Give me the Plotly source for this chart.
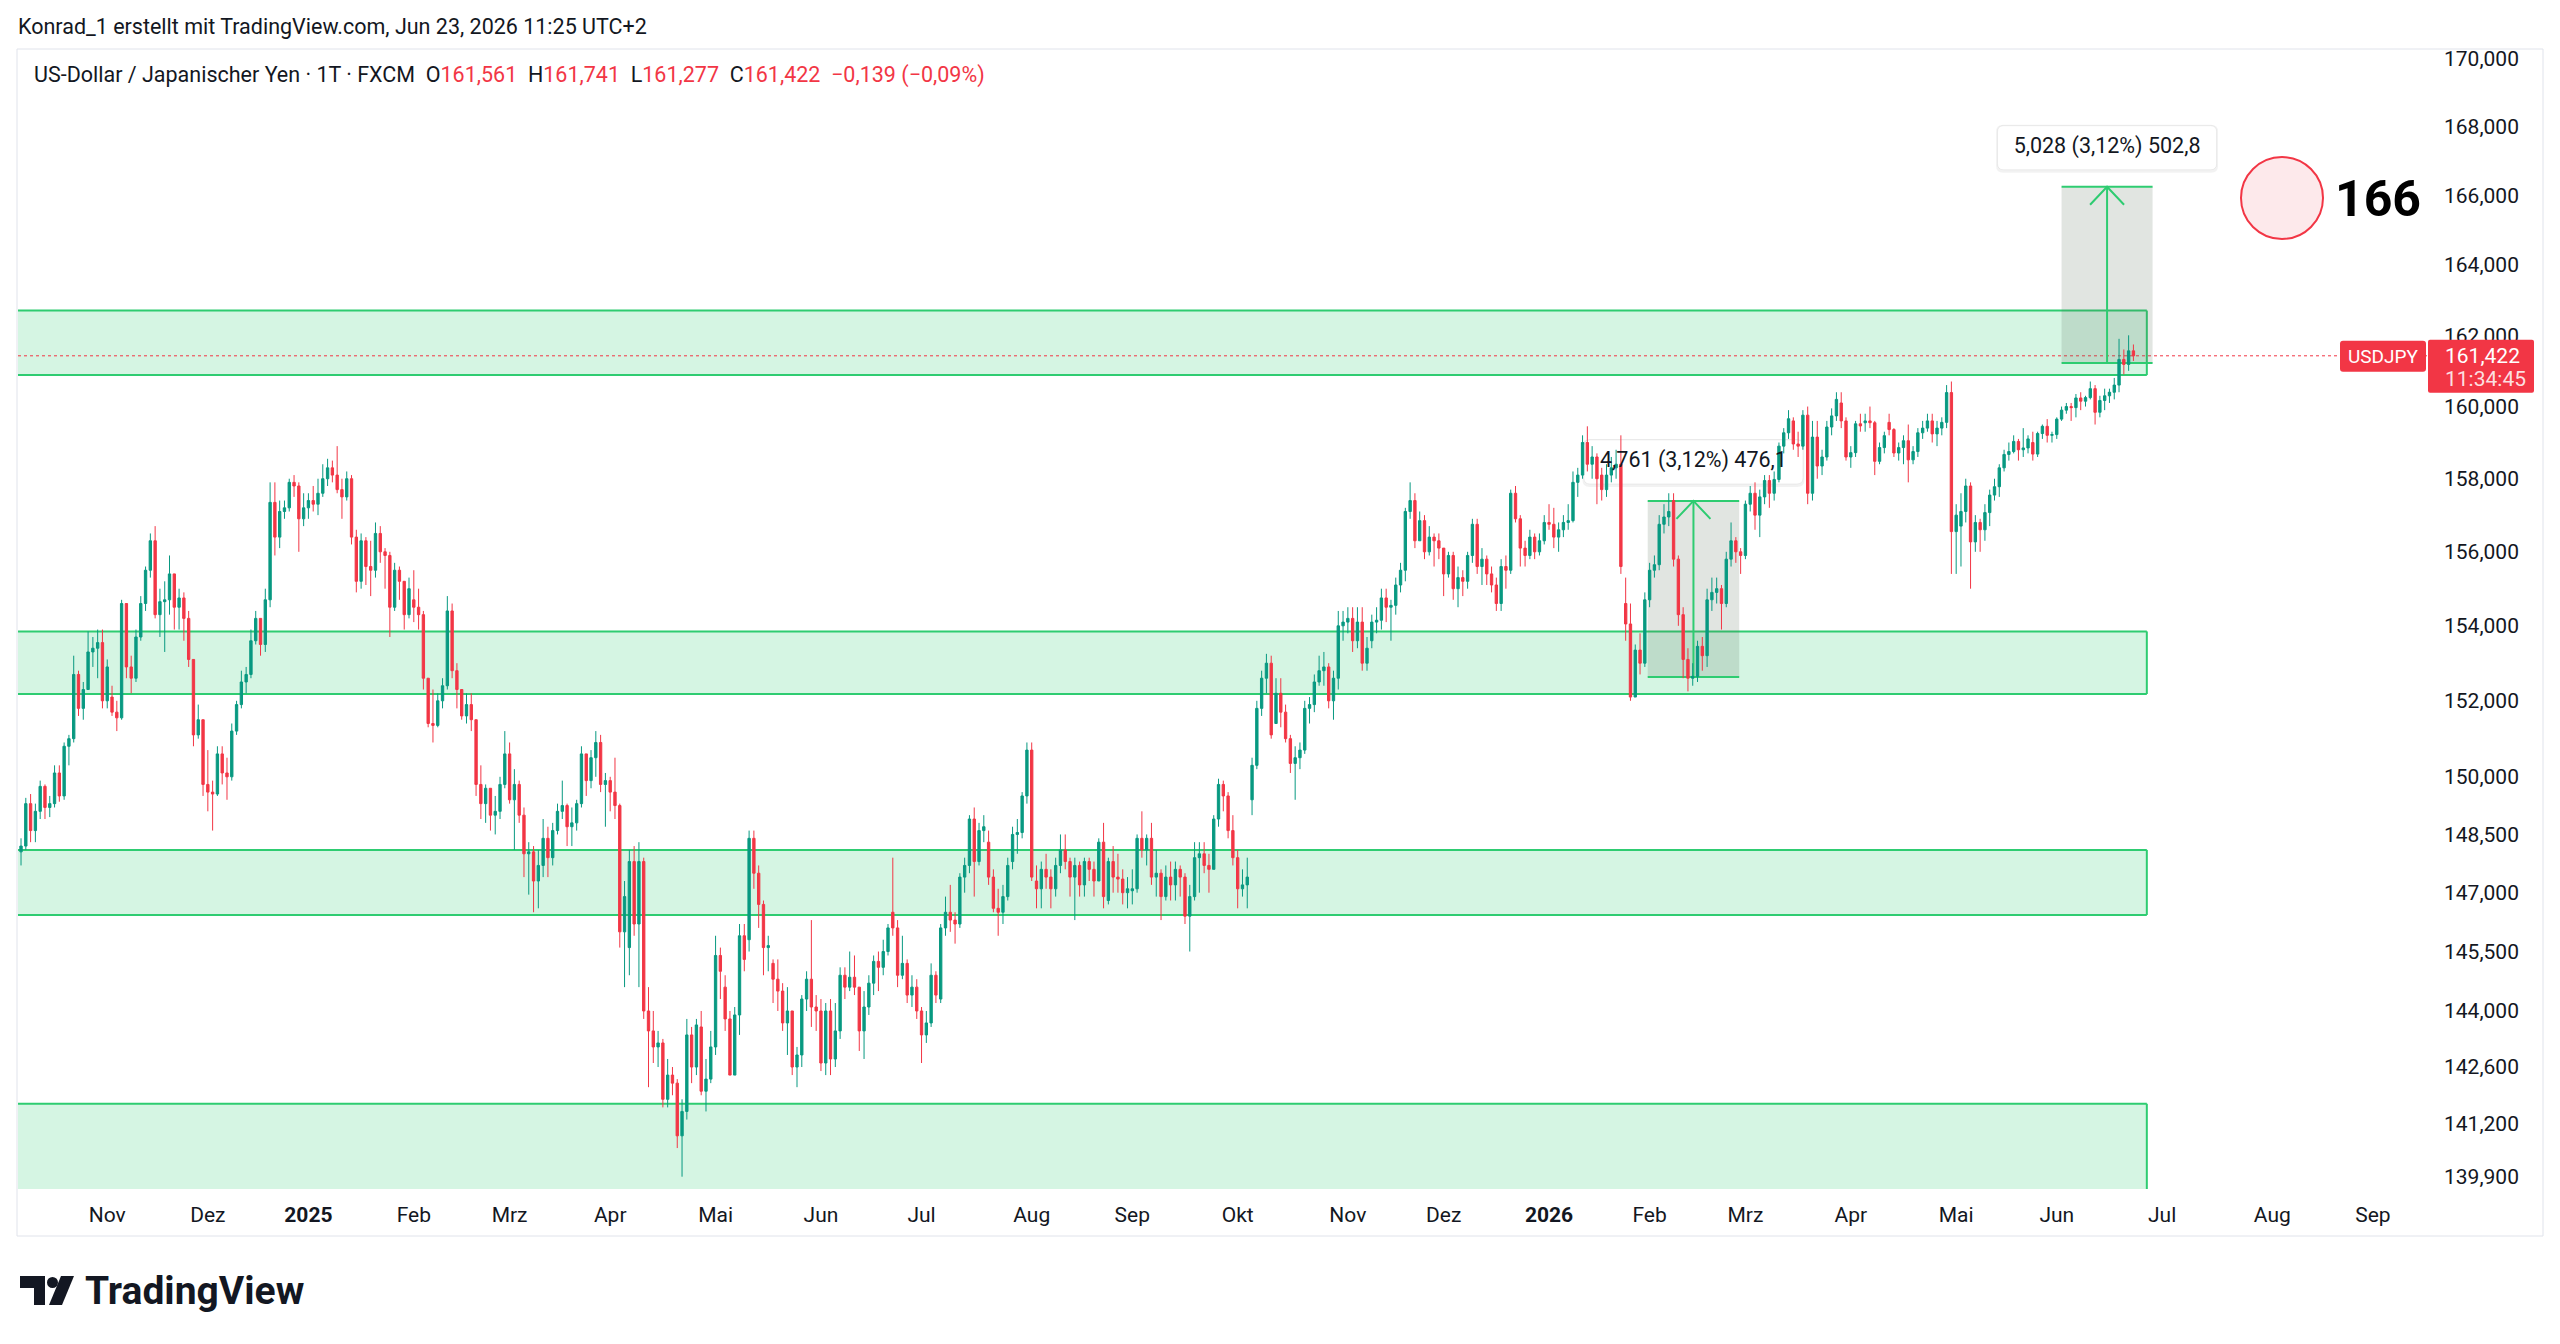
import math
import pandas as pd
import plotly.graph_objects as go

# ------------------------------------------------------------------ data
# USD/JPY daily candles (FXCM), 2024-10-08 .. 2026-06-23, one row per month
opens = [
    148.05, 148.2, 149.3, 148.6, 149.1, 149.75, 149.2, 149.3, 150.1, 149.5, 150.8, 151.0, 152.7, 151.8, 152.3, 153.3, 153.4, 153.55,
    152.0, 152.1, 151.7, 151.55, 154.6, 152.9, 152.6, 153.7, 154.6, 155.5, 156.3, 154.3, 154.65, 154.7, 155.4, 154.5, 154.75, 154.2, 153.1, 151.1, 151.5,
    149.8, 149.6, 149.55, 150.6, 150.1, 150.0, 151.2, 151.9, 152.5, 152.7, 153.6, 154.2, 153.5, 154.7, 157.35, 156.4, 157.1, 157.2, 157.9, 157.8, 156.9,
    157.2, 157.4, 157.3, 157.6, 158.0, 158.3, 158.1, 157.7, 157.5, 158.0, 156.4, 155.2, 156.3, 155.6, 155.5, 156.5, 156.0, 155.9, 154.5, 155.5, 155.2, 154.3,
    154.7, 154.5, 154.3, 152.6, 151.4, 151.35, 152.0, 152.4, 154.4, 152.8, 152.3, 151.6, 151.9, 151.5, 149.8, 149.3, 149.7, 149.0, 149.1, 149.8,
    150.6, 149.4, 149.8, 149.0, 148.0, 148.05, 147.3, 147.7, 148.4, 147.9, 148.6, 149.1, 149.25, 148.7, 148.8, 149.3, 150.6, 149.9, 150.5, 150.9, 149.8,
    149.9, 149.6, 149.25, 146.0, 145.6, 147.8, 146.2, 147.8, 144.0, 143.5, 143.1, 143.2, 141.8, 142.4, 142.2, 140.9, 141.5, 143.4, 142.6, 143.6, 142.0, 142.3,
    143.1, 145.4, 144.6, 143.8, 142.4, 143.9, 145.9, 145.8, 148.4, 147.5, 146.7, 145.6, 145.2, 144.8, 144.5, 143.7, 144.0, 142.6, 142.9, 144.3, 144.8, 144.1,
    144.0, 142.7, 144.0, 142.8, 143.5, 144.9, 144.6, 144.85, 144.6, 143.5, 144.1, 144.7, 145.25, 145.1, 145.5, 146.5, 146.1, 144.9, 145.2, 144.4, 144.6,
    144.0, 143.4, 143.7, 144.9, 144.3, 146.1, 146.5, 146.3, 146.2, 147.4, 147.7, 148.9, 147.8, 148.6, 148.3, 147.4, 146.6, 146.5, 146.9, 147.8, 148.5, 148.55, 149.5,
    150.7, 147.3, 147.1, 147.6, 147.4, 147.1, 147.7, 148.1, 147.8, 147.4, 147.7, 147.2, 147.8, 147.6, 147.3, 148.3, 146.8, 147.8, 147.4, 147.35, 147.0,
    147.05, 147.1, 148.4, 148.1, 148.4, 147.4, 147.5, 146.9, 147.4, 147.2, 147.6, 147.4, 146.4, 146.9, 147.9, 148.0, 147.7, 147.6, 148.9, 149.8, 149.5, 148.6,
    147.9, 147.1, 147.2, 149.4, 150.3, 151.8, 152.6, 153.0, 151.4, 152.2, 151.7, 151.0, 150.35, 150.5, 150.7, 151.8, 151.9, 152.5, 152.8, 152.9, 152.0, 152.6, 154.0,
    154.1, 154.2, 153.6, 154.1, 153.0, 153.6, 154.1, 154.15, 154.75, 154.5, 154.55, 155.1, 155.5, 157.1, 157.4, 156.3, 156.85, 156.0, 156.4, 156.3,
    156.1, 155.4, 155.9, 155.0, 155.3, 155.2, 155.9, 156.75, 155.6, 155.8, 155.4, 155.1, 154.6, 155.6, 155.5, 157.6, 156.9, 156.1, 155.9, 156.4, 156.0, 156.3,
    156.8, 156.75, 156.4, 156.6, 156.8, 156.85, 157.9, 158.1, 159.0, 158.4, 158.6, 158.1, 157.7, 158.1, 158.3, 158.4, 154.6, 154.05, 152.1, 153.35, 153.0,
    154.7, 155.5, 155.65, 156.75, 156.95, 157.4, 155.8, 154.3, 153.1, 152.6, 152.65, 153.45, 153.2, 154.7, 154.9, 155.0, 154.6, 155.8, 156.3, 156.0,
    155.9, 157.3, 157.6, 157.0, 157.5, 157.95, 157.6, 157.98, 158.9, 159.27, 159.6, 158.96, 158.9, 159.76, 157.6, 159.15, 158.35, 158.6, 159.43, 159.74, 160.1, 159.6,
    158.6, 158.72, 159.52, 159.55, 159.6, 159.55, 158.48, 158.86, 159.56, 159.36, 158.71, 158.86, 159.05, 158.52, 158.75, 159.27, 159.4, 159.6, 159.24, 159.4, 159.56, 160.39,
    156.55, 156.7, 157.1, 157.8, 156.27, 156.8, 156.6, 157.07, 157.55, 157.78, 158.3, 158.67, 158.75, 159.03, 158.8, 158.85, 159.0, 158.68, 159.25, 159.45, 159.2,
    159.22, 159.65, 159.9, 160.0, 159.97, 160.24, 160.15, 160.25, 160.5, 159.84, 160.17, 160.3, 160.4, 160.6, 161.32, 161.18, 161.561,
]
highs = [
    148.4, 149.45, 149.55, 149.3, 149.9, 149.8, 149.5, 150.3, 150.3, 150.9, 151.1, 153.2, 152.8, 152.5, 153.85, 153.7, 153.9, 153.9,
    153.1, 152.4, 152.0, 154.7, 154.6, 153.2, 153.9, 154.8, 155.6, 156.5, 156.7, 155.0, 155.2, 155.9, 155.3, 155.0, 154.9, 154.4, 153.1, 151.9, 151.5,
    150.7, 149.9, 150.8, 150.8, 150.5, 151.4, 152.0, 152.8, 152.9, 153.9, 154.4, 154.2, 155.0, 157.9, 157.9, 157.4, 157.4, 158.0, 158.1, 157.9, 157.6,
    157.6, 157.8, 158.0, 158.4, 158.55, 158.5, 158.9, 158.0, 158.2, 158.1, 156.6, 156.5, 156.4, 156.3, 156.8, 156.7, 156.1, 156.0, 155.7, 155.6, 155.2, 155.3,
    155.5, 155.0, 154.4, 152.6, 152.3, 152.2, 152.6, 154.8, 154.6, 153.0, 152.3, 152.2, 152.2, 151.5, 150.3, 149.8, 149.7, 149.5, 150.0, 151.2,
    150.9, 150.2, 149.9, 149.2, 148.3, 148.2, 148.1, 148.9, 148.7, 148.8, 149.3, 149.9, 149.3, 149.2, 149.4, 150.8, 150.6, 150.7, 151.2, 151.1, 150.1,
    150.0, 150.5, 149.3, 147.3, 148.1, 148.2, 148.3, 147.9, 144.6, 144.0, 143.5, 143.3, 142.8, 142.6, 142.3, 141.8, 143.8, 143.6, 143.8, 144.0, 142.8, 143.5,
    145.9, 145.6, 144.9, 144.0, 144.1, 146.2, 146.2, 148.6, 148.6, 147.7, 146.8, 145.9, 145.3, 145.3, 144.7, 144.6, 144.0, 143.1, 144.4, 145.0, 146.3, 144.4,
    144.3, 144.2, 144.3, 144.2, 145.1, 145.1, 145.5, 145.4, 144.6, 144.5, 144.9, 145.4, 145.5, 145.8, 146.2, 147.9, 146.3, 145.9, 145.3, 144.9, 144.8,
    144.1, 144.0, 145.2, 145.0, 146.2, 146.9, 147.2, 146.5, 147.5, 147.9, 149.0, 149.2, 148.8, 149.0, 148.6, 147.6, 147.1, 147.2, 147.9, 148.7, 148.9, 149.6, 150.9,
    150.9, 147.7, 147.8, 148.0, 147.6, 147.9, 148.5, 148.5, 147.9, 147.9, 147.8, 147.9, 147.9, 147.8, 148.4, 148.8, 147.9, 148.2, 148.0, 147.6, 147.4,
    147.6, 148.5, 149.1, 148.5, 148.8, 148.1, 147.6, 147.7, 147.8, 147.8, 147.7, 147.5, 147.2, 148.3, 148.3, 148.3, 148.0, 149.0, 149.95, 149.9, 149.6, 149.0,
    148.1, 147.6, 147.9, 150.5, 152.0, 152.8, 153.25, 153.2, 152.6, 152.6, 151.9, 151.1, 150.8, 150.9, 152.0, 152.1, 152.7, 153.2, 153.3, 153.0, 152.8, 154.4, 154.4,
    154.5, 154.5, 154.5, 154.5, 153.7, 154.3, 154.5, 155.0, 155.0, 154.7, 155.3, 155.7, 157.2, 157.9, 157.6, 157.1, 157.0, 156.7, 156.5, 156.5,
    156.1, 156.0, 156.0, 155.6, 155.5, 156.0, 156.9, 156.9, 156.1, 155.9, 155.6, 155.3, 155.8, 155.9, 157.7, 157.8, 157.0, 156.3, 156.6, 156.5, 156.5, 157.0,
    157.3, 157.2, 156.8, 157.0, 157.3, 158.2, 158.3, 159.2, 159.45, 158.9, 158.7, 158.3, 158.4, 158.6, 158.8, 159.2, 155.3, 154.6, 153.5, 153.8, 154.9,
    155.7, 155.9, 157.0, 157.3, 157.6, 157.6, 155.9, 154.5, 153.4, 153.0, 153.6, 153.7, 155.0, 155.3, 155.3, 155.1, 156.0, 156.8, 156.4, 156.1,
    157.4, 157.8, 157.9, 157.7, 158.1, 158.1, 158.2, 159.0, 159.4, 159.9, 159.7, 159.3, 159.9, 160.0, 159.6, 159.6, 158.8, 159.6, 159.95, 160.4, 160.4, 159.7,
    158.9, 159.6, 159.8, 159.8, 160.0, 159.6, 159.0, 159.3, 159.8, 159.4, 159.0, 159.2, 159.5, 158.9, 159.4, 159.6, 159.8, 159.8, 159.6, 159.7, 160.6, 160.7,
    157.3, 157.6, 158.0, 157.9, 157.0, 156.9, 157.3, 157.7, 158.0, 158.4, 158.8, 159.0, 159.2, 159.1, 159.4, 159.2, 159.3, 159.3, 159.5, 159.65, 159.3,
    159.7, 160.0, 160.1, 160.1, 160.35, 160.4, 160.3, 160.7, 160.6, 160.3, 160.5, 160.5, 160.8, 161.9, 161.6, 162.0, 161.741,
]
lows = [
    147.7, 148.1, 148.3, 148.3, 148.9, 148.9, 148.95, 149.2, 149.35, 149.4, 150.3, 150.9, 151.6, 151.5, 152.3, 152.9, 152.6, 151.8,
    151.8, 151.6, 151.2, 151.5, 152.6, 152.2, 152.5, 153.6, 154.4, 155.3, 154.2, 153.7, 153.3, 154.3, 153.9, 153.9, 153.6, 152.9, 150.8, 151.0, 149.5,
    149.1, 148.6, 149.5, 149.8, 149.4, 149.9, 151.1, 151.8, 152.2, 152.6, 153.5, 153.2, 153.3, 154.5, 155.9, 156.1, 156.9, 157.1, 157.5, 156.0, 156.7,
    156.9, 157.1, 157.0, 157.5, 157.8, 157.9, 157.6, 156.9, 157.4, 156.2, 154.9, 155.0, 155.1, 154.8, 155.3, 155.7, 155.0, 153.7, 154.4, 154.7, 153.9, 154.2,
    154.1, 153.9, 152.3, 151.3, 150.9, 151.3, 151.8, 152.3, 152.6, 151.8, 151.5, 151.4, 151.2, 149.5, 148.9, 148.8, 148.6, 148.5, 148.9, 149.7,
    149.3, 148.1, 148.8, 147.4, 146.95, 146.5, 146.6, 147.4, 147.4, 147.7, 148.5, 148.9, 148.2, 148.2, 148.6, 149.2, 149.5, 149.7, 150.0, 149.6, 148.7,
    149.1, 148.9, 145.6, 144.6, 144.9, 145.9, 144.6, 143.8, 142.1, 142.7, 142.6, 141.6, 141.6, 141.9, 140.6, 139.9, 141.3, 142.2, 142.4, 141.9, 141.5, 142.2,
    142.9, 144.3, 143.5, 142.4, 142.4, 143.4, 145.0, 145.5, 147.1, 146.1, 144.9, 145.0, 144.2, 144.0, 143.5, 142.9, 142.4, 142.1, 142.6, 144.0, 143.6, 143.5,
    142.5, 142.4, 142.4, 142.6, 143.3, 144.3, 144.5, 144.4, 143.0, 142.8, 143.9, 144.4, 144.5, 144.9, 145.4, 145.9, 144.6, 144.8, 144.2, 144.1, 143.8,
    142.7, 143.2, 143.6, 144.2, 144.2, 145.9, 146.0, 145.7, 146.1, 147.0, 147.5, 146.9, 147.7, 148.3, 147.2, 146.5, 145.9, 146.2, 146.8, 147.6, 148.0, 148.4, 149.3,
    147.3, 146.6, 146.6, 147.1, 146.6, 146.9, 147.5, 147.6, 146.9, 146.3, 146.9, 146.9, 147.3, 146.9, 147.3, 146.6, 146.7, 147.0, 147.0, 146.7, 146.6,
    146.7, 147.0, 147.9, 147.7, 147.2, 146.9, 146.3, 146.8, 146.8, 146.8, 146.9, 146.2, 145.5, 146.8, 147.0, 147.5, 147.0, 147.6, 148.7, 149.1, 148.4, 147.7,
    146.6, 146.9, 146.6, 149.0, 150.2, 151.6, 152.2, 151.0, 151.4, 151.3, 150.9, 150.1, 149.4, 150.2, 150.6, 151.4, 151.7, 152.4, 152.4, 151.8, 151.5, 152.3, 153.6,
    153.8, 153.3, 153.4, 152.8, 152.8, 153.4, 153.8, 153.9, 154.1, 153.6, 154.3, 154.9, 155.2, 156.9, 156.1, 156.3, 155.8, 155.9, 155.6, 155.8,
    154.8, 155.3, 154.7, 154.5, 154.8, 155.0, 155.7, 155.4, 155.1, 155.1, 154.9, 154.4, 154.4, 155.0, 155.4, 156.8, 155.6, 155.6, 155.8, 155.8, 155.9, 156.2,
    156.6, 156.1, 156.0, 156.4, 156.6, 156.8, 157.5, 158.0, 158.2, 158.0, 157.3, 157.4, 157.5, 157.9, 158.0, 155.4, 153.6, 152.0, 152.1, 152.7, 152.9,
    154.5, 155.3, 155.5, 156.5, 156.7, 155.6, 154.0, 152.6, 152.25, 152.4, 152.5, 152.8, 152.9, 154.4, 154.6, 153.9, 154.5, 155.6, 155.7, 155.4,
    155.8, 157.1, 156.6, 156.4, 157.3, 157.2, 157.4, 157.9, 158.7, 159.1, 158.8, 158.6, 158.8, 157.3, 157.4, 158.0, 158.1, 158.5, 159.2, 159.6, 159.4, 158.5,
    158.3, 158.6, 159.3, 159.3, 159.4, 158.1, 158.4, 158.7, 159.2, 158.6, 158.5, 158.4, 157.9, 158.4, 158.6, 159.1, 159.3, 159.0, 158.9, 159.2, 159.4, 155.4,
    155.4, 155.6, 156.8, 155.0, 156.0, 156.0, 156.3, 156.7, 157.4, 157.5, 158.2, 158.5, 158.7, 158.5, 158.6, 158.7, 158.5, 158.6, 159.1, 159.0, 159.0,
    159.1, 159.6, 159.8, 159.6, 159.7, 159.9, 160.0, 160.2, 159.5, 159.7, 159.9, 160.1, 160.2, 160.4, 160.9, 161.0, 161.277,
]
closes = [
    148.2, 149.3, 148.6, 149.1, 149.75, 149.2, 149.3, 150.1, 149.5, 150.8, 151.0, 152.7, 151.8, 152.3, 153.3, 153.4, 153.55, 152.0,
    152.9, 151.7, 151.55, 154.6, 152.9, 152.6, 153.7, 154.6, 155.5, 156.3, 154.3, 154.65, 154.7, 155.4, 154.5, 154.75, 154.2, 153.1, 151.1, 151.5, 149.8,
    149.6, 149.55, 150.6, 150.1, 150.0, 151.2, 151.9, 152.5, 152.7, 153.6, 154.2, 153.5, 154.7, 157.35, 156.4, 157.1, 157.2, 157.9, 157.8, 156.9, 157.2,
    157.4, 157.3, 157.6, 158.0, 158.3, 158.1, 157.7, 157.5, 158.0, 156.4, 155.2, 156.3, 155.6, 155.5, 156.5, 156.0, 155.9, 154.5, 155.5, 155.2, 154.3, 155.0,
    154.5, 154.3, 152.6, 151.4, 151.35, 152.0, 152.4, 154.4, 152.8, 152.3, 151.6, 151.9, 151.5, 149.8, 149.3, 149.7, 149.0, 149.1, 149.8, 150.6,
    149.4, 149.8, 149.0, 148.0, 148.05, 147.3, 147.7, 148.4, 147.9, 148.6, 149.1, 149.25, 148.7, 148.8, 149.3, 150.6, 149.9, 150.5, 150.9, 149.8, 149.9,
    149.6, 149.25, 146.0, 146.9, 147.8, 146.2, 147.8, 144.0, 143.5, 143.1, 143.2, 141.8, 142.4, 142.2, 140.9, 141.5, 143.4, 142.6, 143.65, 142.0, 142.3, 143.1,
    145.4, 145.0, 143.8, 142.4, 143.9, 145.9, 145.3, 148.4, 147.5, 146.7, 145.6, 145.65, 144.8, 144.5, 143.7, 144.0, 142.6, 142.9, 144.3, 144.8, 144.1, 144.0,
    142.7, 144.0, 142.8, 143.5, 144.9, 144.6, 144.85, 144.6, 143.5, 144.1, 144.7, 145.25, 145.1, 145.5, 146.1, 146.1, 144.9, 145.2, 144.4, 144.6, 144.0,
    143.4, 143.7, 144.9, 144.4, 146.1, 146.5, 146.3, 146.2, 147.4, 147.7, 148.9, 147.8, 148.6, 148.7, 147.4, 146.6, 146.5, 146.9, 147.7, 148.5, 148.55, 149.5, 150.7,
    147.4, 147.1, 147.6, 147.4, 147.1, 147.7, 148.1, 147.8, 147.4, 147.7, 147.2, 147.8, 147.6, 147.3, 148.3, 146.9, 147.8, 147.4, 147.35, 147.0, 147.1,
    147.1, 148.4, 148.1, 148.4, 147.4, 147.5, 146.9, 147.4, 147.2, 147.6, 147.4, 146.4, 146.9, 147.9, 148.0, 147.7, 147.6, 148.9, 149.8, 149.5, 148.6, 147.9,
    147.1, 147.2, 147.4, 150.3, 151.8, 152.6, 153.0, 151.1, 152.2, 151.7, 151.0, 150.35, 150.5, 150.7, 151.8, 151.9, 152.5, 152.8, 152.9, 152.0, 152.6, 154.0, 154.1,
    154.2, 153.6, 154.1, 153.0, 153.4, 154.1, 154.15, 154.75, 154.5, 154.55, 155.1, 155.5, 157.1, 157.4, 156.3, 156.85, 156.0, 156.4, 156.3, 156.1,
    155.4, 155.9, 155.0, 155.3, 155.2, 155.9, 156.75, 155.6, 155.8, 155.4, 155.1, 154.6, 155.6, 155.5, 157.6, 156.9, 156.1, 155.9, 156.4, 156.0, 156.3, 156.8,
    156.75, 156.4, 156.6, 156.8, 156.85, 157.9, 158.1, 159.0, 158.4, 158.6, 158.0, 157.7, 158.1, 158.3, 158.4, 155.6, 154.05, 152.1, 153.35, 153.0, 154.7,
    155.5, 155.65, 156.75, 156.95, 157.1, 155.8, 154.3, 153.1, 152.6, 152.65, 153.45, 153.2, 154.7, 154.9, 155.0, 154.6, 155.8, 156.3, 156.0, 155.9,
    157.3, 157.6, 157.0, 157.5, 157.95, 157.6, 157.98, 158.9, 159.27, 159.66, 158.96, 158.9, 159.76, 157.6, 159.15, 158.35, 158.6, 159.43, 159.74, 160.2, 159.6, 158.6,
    158.72, 159.52, 159.46, 159.6, 159.55, 158.48, 158.86, 159.19, 159.36, 158.71, 158.86, 159.05, 158.52, 158.75, 159.27, 159.4, 159.6, 159.24, 159.4, 159.56, 160.39, 156.55,
    157.0, 157.1, 157.8, 156.27, 156.8, 156.6, 157.07, 157.55, 157.78, 158.3, 158.67, 158.75, 159.03, 158.8, 158.85, 159.1, 158.68, 159.25, 159.45, 159.2, 159.22,
    159.65, 159.9, 160.0, 159.97, 160.24, 160.15, 160.25, 160.5, 159.84, 160.17, 160.3, 160.4, 160.6, 161.32, 161.18, 161.561, 161.422,
]

first_date = "2024-10-08"
axis_end_date = "2026-09-30"
holidays = ["2024-12-25", "2025-01-01", "2025-12-25", "2026-01-01"]
month_names = ["Jan", "Feb", "Mrz", "Apr", "Mai", "Jun", "Jul", "Aug", "Sep", "Okt", "Nov", "Dez"]

price_ticks = [139.9, 141.2, 142.6, 144.0, 145.5, 147.0, 148.5, 150.0, 152.0, 154.0,
               156.0, 158.0, 160.0, 162.0, 164.0, 166.0, 168.0, 170.0]
price_tick_text = ["139,900", "141,200", "142,600", "144,000", "145,500", "147,000", "148,500",
                   "150,000", "152,000", "154,000", "156,000", "158,000", "160,000", "162,000",
                   "164,000", "166,000", "168,000", "170,000"]

# support / resistance zones (low, high) and the bar where they end
zone_lows = [160.88, 152.18, 146.43, 137.0]
zone_highs = [162.70, 153.85, 148.10, 141.69]
zone_end_bar = 443.8

# price-range measurements
measure_bar0 = [339.6, 426.0]
measure_bar1 = [358.7, 445.0]
measure_low = [152.63, 161.222]
measure_high = [157.39, 166.25]
measure_text = ["4,761 (3,12%) 476,1", "5,028 (3,12%) 502,8"]

target_text = "166"
symbol = "USDJPY"
countdown = "11:34:45"
credit = "Konrad_1 erstellt mit TradingView.com, Jun 23, 2026 11:25 UTC+2"
title = "US-Dollar / Japanischer Yen · 1T · FXCM"

# ------------------------------------------------------------------ geometry
W, H = 2560, 1344
PL, PR, PT, PB = 18, 2428, 49, 1189
X0, X1 = -0.63, 502.5
Y0, Y1 = 139.6, 170.29
LY0, LY1 = math.log10(Y0), math.log10(Y1)

UP = "#089981"
DN = "#F23645"
GREEN = "#2ECC71"
TXT = "#131722"
FONT = "Roboto"
FS = 21.5   # general UI text size


def fx(i):
    return (i - X0) / (X1 - X0)


def fy(p):
    return (math.log10(p) - LY0) / (LY1 - LY0)


def gx(px):
    return (px - PL) / (PR - PL)


def gy(py):
    return (PB - py) / (PB - PT)


def bar_px(i):
    return PL + fx(i) * (PR - PL)


def price_py(p):
    return PB - fy(p) * (PB - PT)


def py_price(py):
    return 10 ** (LY0 + gy(py) * (LY1 - LY0))


def rrect(x0, y0, x1, y1, r):
    X, Y = gx, gy
    return (f"M {X(x0 + r)},{Y(y0)} L {X(x1 - r)},{Y(y0)} Q {X(x1)},{Y(y0)} {X(x1)},{Y(y0 + r)} "
            f"L {X(x1)},{Y(y1 - r)} Q {X(x1)},{Y(y1)} {X(x1 - r)},{Y(y1)} "
            f"L {X(x0 + r)},{Y(y1)} Q {X(x0)},{Y(y1)} {X(x0)},{Y(y1 - r)} "
            f"L {X(x0)},{Y(y0 + r)} Q {X(x0)},{Y(y0)} {X(x0 + r)},{Y(y0)} Z")


n = min(len(opens), len(highs), len(lows), len(closes))
xs = list(range(n))

# trading-day calendar for the time axis
days = pd.bdate_range(first_date, axis_end_date)
days = days[~days.isin(pd.to_datetime(holidays))]
tickvals, ticktext = [], []
seen = set()
for k, d in enumerate(days):
    key = (d.year, d.month)
    if key in seen:
        continue
    seen.add(key)
    if k == 0:
        continue
    tickvals.append(k)
    ticktext.append(f"<b>{d.year}</b>" if d.month == 1 else month_names[d.month - 1])

shapes = []
annotations = []

# ---- zones
for lo, hi in zip(zone_lows, zone_highs):
    yl = max(fy(lo), 0.0)
    yh = fy(hi)
    xe = fx(zone_end_bar)
    shapes.append(dict(type="rect", xref="paper", yref="paper", x0=0, x1=xe, y0=yl, y1=yh,
                       fillcolor="rgba(46,204,113,0.2)", line=dict(width=0), layer="below"))
    shapes.append(dict(type="line", xref="paper", yref="paper", x0=0, x1=xe, y0=yh, y1=yh,
                       line=dict(color=GREEN, width=2), layer="below"))
    if lo >= Y0:
        shapes.append(dict(type="line", xref="paper", yref="paper", x0=0, x1=xe, y0=yl, y1=yl,
                           line=dict(color=GREEN, width=2), layer="below"))
    shapes.append(dict(type="line", xref="paper", yref="paper", x0=xe, x1=xe, y0=yl, y1=yh,
                       line=dict(color=GREEN, width=2), layer="below"))

# ---- last price dotted line
shapes.append(dict(type="line", xref="paper", yref="paper", x0=0, x1=1,
                   y0=fy(closes[n - 1]), y1=fy(closes[n - 1]),
                   line=dict(color=DN, width=1, dash="dot"), layer="below"))

# ---- measurements
label_x, label_y, label_t = [], [], []
for b0, b1, lo, hi, t in zip(measure_bar0, measure_bar1, measure_low, measure_high, measure_text):
    xa, xb = fx(b0), fx(b1)
    yl, yh = fy(lo), fy(hi)
    xc = (xa + xb) / 2
    shapes.append(dict(type="rect", xref="paper", yref="paper", x0=xa, x1=xb, y0=yl, y1=yh,
                       fillcolor="rgba(90,110,90,0.18)", line=dict(width=0), layer="below"))
    for yy in (yl, yh):
        shapes.append(dict(type="line", xref="paper", yref="paper", x0=xa, x1=xb, y0=yy, y1=yy,
                           line=dict(color=GREEN, width=2), layer="below"))
    shapes.append(dict(type="line", xref="paper", yref="paper", x0=xc, x1=xc, y0=yl, y1=yh,
                       line=dict(color=GREEN, width=2), layer="below"))
    dx, dy = 17 / (PR - PL), 18 / (PB - PT)
    shapes.append(dict(type="path", xref="paper", yref="paper",
                       path=f"M {xc - dx},{yh - dy} L {xc},{yh} L {xc + dx},{yh - dy}",
                       line=dict(color=GREEN, width=2), layer="below"))
    # label box
    cpx = (bar_px(b0) + bar_px(b1)) / 2
    top_px = price_py(hi)
    lb1 = top_px - 17
    lb0 = lb1 - 44
    shapes.append(dict(type="path", xref="paper", yref="paper",
                       path=rrect(cpx - 111, lb0 - 1, cpx + 111, lb1 + 3, 7),
                       fillcolor="rgba(0,0,0,0.05)", line=dict(width=0), layer="below"))
    shapes.append(dict(type="path", xref="paper", yref="paper",
                       path=rrect(cpx - 109.5, lb0, cpx + 109.5, lb1, 6),
                       fillcolor="white", line=dict(color="rgba(0,0,0,0.06)", width=1), layer="below"))
    label_x.append((b0 + b1) / 2)
    label_y.append(py_price((lb0 + lb1) / 2))
    label_t.append(t)

# ---- target circle + text
shapes.append(dict(type="circle", xref="paper", yref="paper",
                   x0=gx(2241), x1=gx(2323), y0=gy(239), y1=gy(157),
                   fillcolor="#FDE9EB", line=dict(color=DN, width=2), layer="above"))
annotations.append(dict(xref="paper", yref="paper", x=gx(2378), y=gy(199), text=f"<b>{target_text}</b>",
                        showarrow=False, xanchor="center", yanchor="middle",
                        font=dict(family=FONT, size=50, color="#000000")))

# ---- symbol label and last-price label
lp_py = price_py(closes[n - 1])
shapes.append(dict(type="path", xref="paper", yref="paper",
                   path=rrect(2340, lp_py - 15, 2426, lp_py + 16, 3),
                   fillcolor=DN, line=dict(width=0), layer="above"))
annotations.append(dict(xref="paper", yref="paper", x=gx(2383), y=gy(lp_py + 0.5), text=symbol,
                        showarrow=False, xanchor="center", yanchor="middle",
                        font=dict(family=FONT, size=19, color="white")))
shapes.append(dict(type="path", xref="paper", yref="paper",
                   path=rrect(2428, lp_py - 16, 2534, lp_py + 37, 2),
                   fillcolor=DN, line=dict(width=0), layer="above"))
annotations.append(dict(xref="paper", yref="paper", x=gx(2443), y=gy(lp_py + 0.5),
                        text=f"{closes[n - 1]:.3f}".replace(".", ","),
                        showarrow=False, xanchor="left", yanchor="middle",
                        font=dict(family=FONT, size=FS - 0.5, color="white")))
annotations.append(dict(xref="paper", yref="paper", x=gx(2443), y=gy(lp_py + 23.5), text=countdown,
                        showarrow=False, xanchor="left", yanchor="middle",
                        font=dict(family=FONT, size=FS - 0.5, color="rgba(255,255,255,0.85)")))

# ---- pane border
shapes.append(dict(type="rect", xref="paper", yref="paper", x0=gx(17), x1=gx(2543), y0=gy(1236), y1=gy(49),
                   line=dict(color="#E0E3EB", width=1), fillcolor="rgba(0,0,0,0)", layer="below"))


# ---- header texts
def fmt(v):
    return f"{v:.3f}".replace(".", ",")


chg = closes[n - 1] - closes[n - 2]
pct = chg / closes[n - 2] * 100
red = lambda s: f"<span style='color:{DN}'>{s}</span>"
sp = "&nbsp;&nbsp;"
sign = "−" if chg < 0 else "+"
line2 = (f"{title}{sp}O{red(fmt(opens[n-1]))}{sp}H{red(fmt(highs[n-1]))}{sp}"
         f"L{red(fmt(lows[n-1]))}{sp}C{red(fmt(closes[n-1]))}{sp}"
         + red(f"{sign}{fmt(abs(chg))} ({sign}{abs(pct):.2f}%)".replace(".", ",")))
annotations.append(dict(xref="paper", yref="paper", x=gx(16), y=gy(26), text=credit, showarrow=False,
                        xanchor="left", yanchor="middle", font=dict(family=FONT, size=FS, color=TXT)))
annotations.append(dict(xref="paper", yref="paper", x=gx(32), y=gy(75), text=line2, showarrow=False,
                        xanchor="left", yanchor="middle", font=dict(family=FONT, size=FS, color=TXT)))

# ---- TradingView logo
shapes.append(dict(type="path", xref="paper", yref="paper", layer="above",
                   path=f"M {gx(20)},{gy(1276)} L {gx(45)},{gy(1276)} L {gx(45)},{gy(1305)} L {gx(34)},{gy(1305)} "
                        f"L {gx(34)},{gy(1288)} L {gx(20)},{gy(1288)} Z",
                   fillcolor=TXT, line=dict(width=0)))
shapes.append(dict(type="circle", xref="paper", yref="paper", layer="above",
                   x0=gx(47), x1=gx(58), y0=gy(1288), y1=gy(1277), fillcolor=TXT, line=dict(width=0)))
shapes.append(dict(type="path", xref="paper", yref="paper", layer="above",
                   path=f"M {gx(61)},{gy(1276)} L {gx(74)},{gy(1276)} L {gx(62)},{gy(1305)} L {gx(49)},{gy(1305)} Z",
                   fillcolor=TXT, line=dict(width=0)))
annotations.append(dict(xref="paper", yref="paper", x=gx(83), y=gy(1291), text="<b>TradingView</b>",
                        showarrow=False, xanchor="left", yanchor="middle",
                        font=dict(family=FONT, size=39, color=TXT)))

# ------------------------------------------------------------------ figure
fig = go.Figure()
fig.add_trace(go.Scatter(x=label_x, y=label_y, mode="text", text=label_t, textposition="middle center",
                         textfont=dict(family=FONT, size=FS, color=TXT), hoverinfo="skip", showlegend=False))
fig.add_trace(go.Candlestick(
    x=xs, open=opens[:n], high=highs[:n], low=lows[:n], close=closes[:n],
    increasing=dict(line=dict(color=UP, width=1), fillcolor=UP),
    decreasing=dict(line=dict(color=DN, width=1), fillcolor=DN),
    whiskerwidth=0, showlegend=False, hoverinfo="skip"))

fig.update_layout(
    width=W, height=H, autosize=False,
    margin=dict(l=PL, r=W - PR, t=PT, b=H - PB, pad=0),
    paper_bgcolor="white", plot_bgcolor="rgba(0,0,0,0)",
    font=dict(family=FONT, color=TXT),
    showlegend=False,
    shapes=shapes, annotations=annotations,
    xaxis=dict(range=[X0, X1], showgrid=False, zeroline=False, showline=False,
               tickvals=tickvals, ticktext=ticktext, ticks="", ticklabelstandoff=11,
               tickfont=dict(family=FONT, size=21, color=TXT),
               rangeslider=dict(visible=False), fixedrange=True),
    yaxis=dict(type="log", range=[LY0, LY1], side="right", showgrid=False, zeroline=False,
               showline=False, tickvals=price_ticks, ticktext=price_tick_text, ticks="",
               ticklabelstandoff=15, tickfont=dict(family=FONT, size=21, color=TXT), fixedrange=True),
)

fig.write_html("out.html", config={"displayModeBar": False},
               post_script="document.body.style.margin='0';")
